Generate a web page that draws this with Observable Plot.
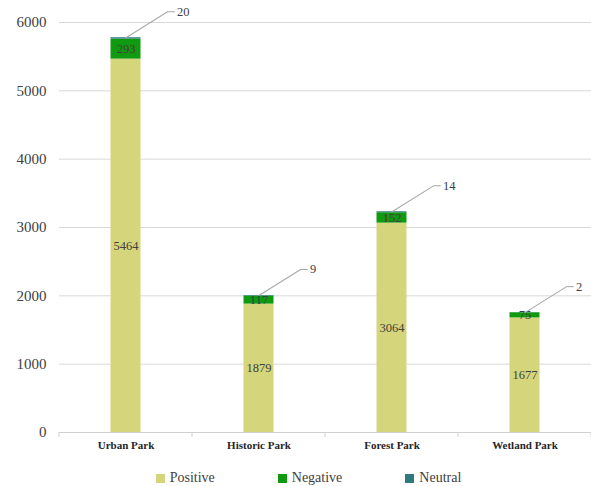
<!DOCTYPE html>
<html>
<head>
<meta charset="utf-8">
<script src="https://cdn.jsdelivr.net/npm/d3@7"></script>
<script src="https://cdn.jsdelivr.net/npm/@observablehq/plot@0.6"></script>
<style>
  body { margin: 0; background: #fff; font-family: "Liberation Serif", "DejaVu Serif", "Times New Roman", Tinos, serif; }
  svg text { font-family: "Liberation Serif", "DejaVu Serif", "Times New Roman", Tinos, serif !important; }
  #legend { display: flex; justify-content: center; gap: 63px; padding-left: 26px; margin-top: 10px; font-size: 14px; color: #404040; line-height: 16px; }
  #legend .item { display: flex; align-items: center; }
  #legend .sw { width: 9px; height: 9px; margin-right: 5px; display: inline-block; }
</style>
</head>
<body>
<div id="chart"></div>
<div id="legend"></div>
<script>
const categories = ["Urban Park", "Historic Park", "Forest Park", "Wetland Park"];
const positive = [5464, 1879, 3064, 1677];
const negative = [293, 117, 152, 75];
const neutral = [20, 9, 14, 2];
const series = ["Positive", "Negative", "Neutral"];
const colors = ["#d5d67b", "#0f9a10", "#2f7a80"];
const yTicks = [0, 1000, 2000, 3000, 4000, 5000, 6000];

const seriesValues = {Positive: positive, Negative: negative, Neutral: neutral};
const table = [];
categories.forEach((c, i) => {
  series.forEach(s => table.push({category: c, sentiment: s, value: seriesValues[s][i]}));
});
const inner = table.filter(d => d.sentiment !== "Neutral");
const tops = categories.map((c, i) => ({category: c, total: positive[i] + negative[i] + neutral[i], label: neutral[i]}));

const serif = "'Liberation Serif', 'DejaVu Serif', 'Times New Roman', serif";
const chart = Plot.plot({
  width: 591,
  height: 460,
  marginTop: 22,
  marginBottom: 28,
  marginLeft: 59,
  marginRight: 0,
  style: {fontFamily: serif, background: "#fff"},
  x: {domain: categories, padding: 0},
  y: {domain: [0, 6000]},
  color: {domain: series, range: colors},
  marks: [
    Plot.gridY(yTicks.filter(t => t > 0), {stroke: "#d9d9d9", strokeOpacity: 1}),
    Plot.ruleY([0], {stroke: "#d0d0d0"}),
    Plot.barY(table, {x: "category", y: "value", fill: "sentiment", insetLeft: 51.5, insetRight: 51.5}),
    Plot.text(inner, Plot.stackY({x: "category", y: "value", z: "sentiment", text: d => String(d.value), fill: "#404040", fontSize: 12.5})),
    Plot.vector(tops, {x: "category", y: "total", length: 49, rotate: 58, anchor: "start", r: 0, stroke: "#a6a6a6", strokeWidth: 1}),
    Plot.vector(tops, {x: "category", y: "total", dx: 42, dy: -26, length: 6, rotate: 90, anchor: "start", r: 0, stroke: "#a6a6a6", strokeWidth: 1}),
    Plot.text(tops, {x: "category", y: "total", text: d => String(d.label), dx: 51, dy: -26, textAnchor: "start", fill: "#404040", fontSize: 12.5}),
    Plot.axisY(yTicks, {tickSize: 0, tickPadding: 13, label: null, fontSize: 15, color: "#404040", tickFormat: d => String(d)}),
    Plot.axisX({tickSize: 0, tickPadding: 9, label: null, fontSize: 11, fontWeight: "bold", color: "#262626"})
  ]
});
document.getElementById("chart").appendChild(chart);

// category separator ticks at band boundaries, derived from the x scale
const xs = chart.scale("x");
const y0 = chart.scale("y").apply(0);
const svg = d3.select(chart);
for (let i = 0; i <= categories.length; i++) {
  const px = xs.range[0] + i * xs.step;
  svg.append("line").attr("x1", px).attr("x2", px).attr("y1", y0).attr("y2", y0 + 5)
    .attr("stroke", "#d0d0d0");
}

const legend = document.getElementById("legend");
series.forEach((s, i) => {
  const item = document.createElement("div");
  item.className = "item";
  const sw = document.createElement("span");
  sw.className = "sw";
  sw.style.background = colors[i];
  item.appendChild(sw);
  item.appendChild(document.createTextNode(s));
  legend.appendChild(item);
});
</script>
</body>
</html>
